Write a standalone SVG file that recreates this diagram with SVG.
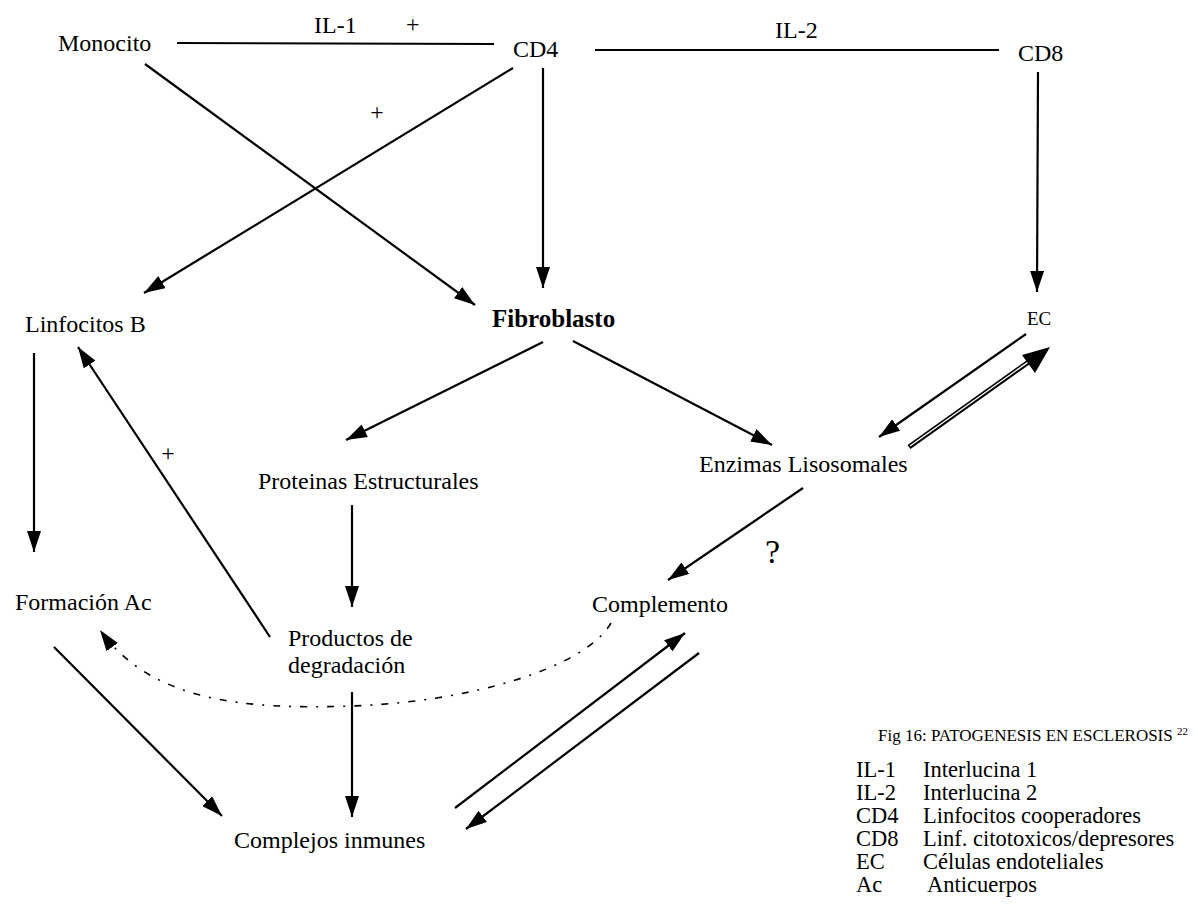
<svg xmlns="http://www.w3.org/2000/svg" width="1198" height="906" viewBox="0 0 1198 906">
<style>
text{font-family:"Liberation Serif","Times New Roman",serif;fill:#000;font-size:24px}
.big{font-size:25px;font-weight:bold}
.ec{font-size:19px}
.leg{font-size:22.5px}
.title{font-size:17px}
.ln{stroke:#000;stroke-width:2.2;fill:none}
.dash{stroke:#000;stroke-width:1.6;fill:none;stroke-dasharray:7 9 2 9}
</style>
<defs>
<marker id="ah" markerUnits="userSpaceOnUse" markerWidth="22" markerHeight="14" refX="21" refY="7" orient="auto">
<path d="M0,0 L21,7 L0,14 z" fill="#000"/>
</marker>
</defs>
<rect width="1198" height="906" fill="#fff"/>
<g id="connectors">
<line class="ln" x1="177" y1="43" x2="494" y2="44"/>
<line class="ln" x1="595" y1="50" x2="999" y2="50"/>
<line class="ln" x1="145" y1="64" x2="475" y2="305" marker-end="url(#ah)"/>
<line class="ln" x1="513" y1="68" x2="144" y2="293" marker-end="url(#ah)"/>
<line class="ln" x1="543" y1="68" x2="543" y2="288" marker-end="url(#ah)"/>
<line class="ln" x1="1038" y1="72" x2="1037" y2="292" marker-end="url(#ah)"/>
<line class="ln" x1="543" y1="342" x2="346" y2="440" marker-end="url(#ah)"/>
<line class="ln" x1="573" y1="341" x2="772" y2="445" marker-end="url(#ah)"/>
<line class="ln" x1="1026" y1="334" x2="879" y2="437" marker-end="url(#ah)"/>
<g id="double-arrow">
<line x1="909" y1="447" x2="1030" y2="361" stroke="#000" stroke-width="5"/>
<line x1="910" y1="446" x2="1031" y2="360" stroke="#fff" stroke-width="1.4"/>
<polygon points="1050,347 1022,355 1035,373" fill="#000"/>
</g>
<line class="ln" x1="352" y1="505" x2="352" y2="607" marker-end="url(#ah)"/>
<line class="ln" x1="803" y1="488" x2="668" y2="580" marker-end="url(#ah)"/>
<line class="ln" x1="34" y1="353" x2="34" y2="552" marker-end="url(#ah)"/>
<line class="ln" x1="270" y1="637" x2="78" y2="347" marker-end="url(#ah)"/>
<line class="ln" x1="54" y1="647" x2="222" y2="816" marker-end="url(#ah)"/>
<line class="ln" x1="352" y1="692" x2="352" y2="817" marker-end="url(#ah)"/>
<line class="ln" x1="455" y1="808" x2="685" y2="633" marker-end="url(#ah)"/>
<line class="ln" x1="699" y1="653" x2="466" y2="829" marker-end="url(#ah)"/>
<path class="dash" d="M611,623 C585,668 470,702 352,706 C240,710 150,700 100,630" marker-end="url(#ah)"/>
<text x="314" y="33">IL-1</text>
<text x="406" y="32">+</text>
<text x="775" y="38">IL-2</text>
<text x="377" y="120" text-anchor="middle">+</text>
<text x="168" y="461" text-anchor="middle">+</text>
<text x="765" y="563" style="font-size:34px">?</text>
</g>
<g id="monocito"><text x="58" y="51">Monocito</text></g>
<g id="cd4"><text x="513" y="57">CD4</text></g>
<g id="cd8"><text x="1018" y="61">CD8</text></g>
<g id="linfocitos-b"><text x="25" y="332">Linfocitos B</text></g>
<g id="fibroblasto"><text class="big" x="492" y="327">Fibroblasto</text></g>
<g id="ec"><text class="ec" x="1027" y="325">EC</text></g>
<g id="proteinas"><text x="258" y="489">Proteinas Estructurales</text></g>
<g id="enzimas"><text x="699" y="472">Enzimas Lisosomales</text></g>
<g id="formacion"><text x="15" y="610">Formación Ac</text></g>
<g id="productos"><text x="288" y="646">Productos de</text><text x="288" y="673">degradación</text></g>
<g id="complemento"><text x="592" y="612">Complemento</text></g>
<g id="complejos"><text x="234" y="848">Complejos inmunes</text></g>
<g id="legend">
<text class="title" x="878" y="741">Fig 16: PATOGENESIS EN ESCLEROSIS <tspan font-size="11" dy="-6">22</tspan></text>
<text class="leg" x="856" y="777">IL-1</text><text class="leg" x="923" y="777">Interlucina 1</text>
<text class="leg" x="856" y="800">IL-2</text><text class="leg" x="923" y="800">Interlucina 2</text>
<text class="leg" x="856" y="823">CD4</text><text class="leg" x="923" y="823">Linfocitos cooperadores</text>
<text class="leg" x="856" y="846">CD8</text><text class="leg" x="923" y="846">Linf. citotoxicos/depresores</text>
<text class="leg" x="856" y="869">EC</text><text class="leg" x="923" y="869">Células endoteliales</text>
<text class="leg" x="856" y="892">Ac</text><text class="leg" x="927" y="892">Anticuerpos</text>
</g>
</svg>
